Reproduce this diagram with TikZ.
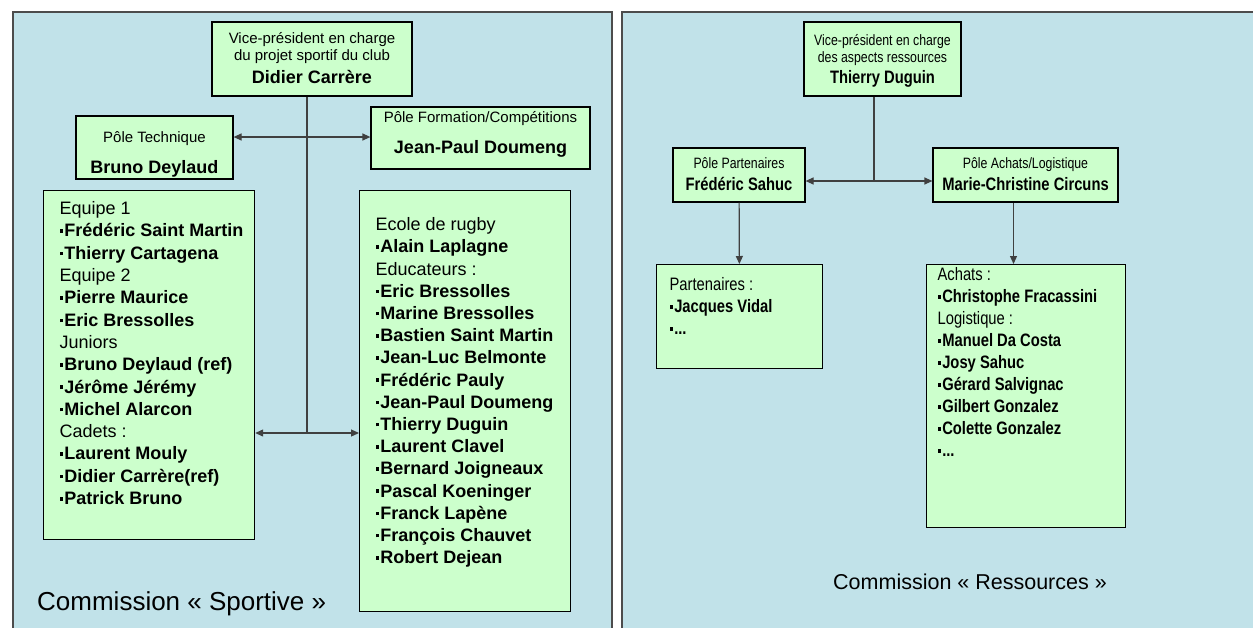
\documentclass[tikz,border=0pt]{standalone}
\usepackage{fontspec}
\setmainfont{Liberation Sans}
\newfontfamily\narrowsans[FakeStretch=0.82]{Liberation Sans}
\usetikzlibrary{arrows.meta}
\definecolor{panelblue}{RGB}{193,226,233}
\definecolor{boxgreen}{RGB}{204,255,204}
\definecolor{linegray}{RGB}{64,64,64}
\newcommand{\puce}{\raisebox{0.22em}{\rule{0.2em}{0.2em}}\kern0.06em}
\newcommand{\chef}[1]{{\fontsize{18}{20}\selectfont\bfseries #1}}
\newcommand{\strutup}[1]{\rule{0pt}{#1}}
\newcommand{\strutdown}[1]{\rule[-#1]{0pt}{#1}}
\begin{document}
\begin{tikzpicture}[x=1pt,y=-1pt]
\tikzstyle{panel} = [draw=black!70, fill=panelblue, line width=1.2pt]
\tikzstyle{head} = [draw=black, fill=boxgreen, line width=1.2pt, align=center, inner sep=0pt, font=\fontsize{15}{17}\selectfont]
\tikzstyle{narrowhead} = [head, font=\narrowsans\fontsize{15}{17}\selectfont]
\tikzstyle{listbox} = [draw=black, fill=boxgreen, line width=1.2pt, inner sep=0pt, anchor=north west]
\tikzstyle{title} = [inner sep=0pt, anchor=base west]
\tikzstyle{link} = [draw=linegray, line width=1.2pt]
\tikzstyle{arrow} = [link, -{Triangle[length=8pt,width=7pt]}]

\useasboundingbox (0,0) rectangle (1253,627);
\fill [white] (0,0) rectangle (1253,627);
\clip (0,0) rectangle (1253,627);
\draw [panel] (13,12) rectangle (612,640);
\draw [panel] (622,12) rectangle (1270,640);

\node (VicePresidentSport) [head, minimum width=200pt, minimum height=74pt] at (312,59) {\strutup{21pt}Vice-président en charge\\du projet sportif du club\\[6pt]\chef{Didier Carrère}\strutdown{13pt}};
\node (PoleTechnique) [head, minimum width=157pt, minimum height=63pt] at (154.5,147.5) {\strutup{26pt}Pôle Technique\\[14pt]\chef{Bruno Deylaud}\strutdown{6pt}};
\node (PoleFormation) [head, minimum width=219pt, minimum height=62pt] at (480.5,138) {\strutup{15pt}Pôle Formation/Compétitions\\[14pt]\chef{Jean-Paul Doumeng}\strutdown{16pt}};
\node (Equipes) [listbox] at (43,190) {\parbox[t][349pt][t]{211pt}{\leftskip16pt\rightskip-30pt\fontsize{18}{22.3}\selectfont
\rule{0pt}{24pt}Equipe 1\\
\textbf{\puce Frédéric Saint Martin}\\
\textbf{\puce Thierry Cartagena}\\
Equipe 2\\
\textbf{\puce Pierre Maurice}\\
\textbf{\puce Eric Bressolles}\\
Juniors\\
\textbf{\puce Bruno Deylaud (ref)}\\
\textbf{\puce Jérôme Jérémy}\\
\textbf{\puce Michel Alarcon}\\
Cadets :\\
\textbf{\puce Laurent Mouly}\\
\textbf{\puce Didier Carrère(ref)}\\
\textbf{\puce Patrick Bruno}}};
\node (EcoleRugby) [listbox] at (359,190) {\parbox[t][421pt][t]{211pt}{\leftskip16pt\rightskip-30pt\fontsize{18}{22.2}\selectfont
\rule{0pt}{40pt}Ecole de rugby\\
\textbf{\puce Alain Laplagne}\\
Educateurs :\\
\textbf{\puce Eric Bressolles}\\
\textbf{\puce Marine Bressolles}\\
\textbf{\puce Bastien Saint Martin}\\
\textbf{\puce Jean-Luc Belmonte}\\
\textbf{\puce Frédéric Pauly}\\
\textbf{\puce Jean-Paul Doumeng}\\
\textbf{\puce Thierry Duguin}\\
\textbf{\puce Laurent Clavel}\\
\textbf{\puce Bernard Joigneaux}\\
\textbf{\puce Pascal Koeninger}\\
\textbf{\puce Franck Lapène}\\
\textbf{\puce François Chauvet}\\
\textbf{\puce Robert Dejean}}};
\node (CommissionSportive) [title, font=\fontsize{26}{30}\selectfont] at (37,610) {Commission « Sportive »};

\coordinate (HubTop) at (307,137);
\coordinate (HubBottom) at (307,433);
\draw [link] (VicePresidentSport.south -| HubBottom) -- (HubBottom);
\draw [arrow] (HubTop) -- (HubTop -| PoleTechnique.east);
\draw [arrow] (HubTop) -- (HubTop -| PoleFormation.west);
\draw [arrow] (HubBottom) -- (HubBottom -| Equipes.east);
\draw [arrow] (HubBottom) -- (HubBottom -| EcoleRugby.west);

\node (VicePresidentRessources) [narrowhead, minimum width=157pt, minimum height=74pt] at (882.5,59) {\strutup{23pt}Vice-président en charge\\des aspects ressources\\[4pt]\chef{Thierry Duguin}\strutdown{13pt}};
\node (PolePartenaires) [narrowhead, minimum width=132pt, minimum height=54pt] at (739,175) {\strutup{20pt}Pôle Partenaires\\[5pt]\chef{Frédéric Sahuc}\strutdown{12pt}};
\node (PoleAchats) [narrowhead, minimum width=185pt, minimum height=54pt] at (1025.5,175) {\strutup{20pt}Pôle Achats/Logistique\\[5pt]\chef{Marie-Christine Circuns}\strutdown{12pt}};
\node (Partenaires) [listbox] at (656,264) {\parbox[t][104pt][t]{166pt}{\leftskip13pt\rightskip-30pt\narrowsans\fontsize{18}{22}\selectfont
\rule{0pt}{26pt}Partenaires :\\
\textbf{\puce Jacques Vidal}\\
\textbf{\puce ...}}};
\node (AchatsLogistique) [listbox] at (926,264) {\parbox[t][263pt][t]{199pt}{\leftskip11pt\rightskip-30pt\narrowsans\fontsize{18}{22}\selectfont
\rule{0pt}{16pt}Achats :\\
\textbf{\puce Christophe Fracassini}\\
Logistique :\\
\textbf{\puce Manuel Da Costa}\\
\textbf{\puce Josy Sahuc}\\
\textbf{\puce Gérard Salvignac}\\
\textbf{\puce Gilbert Gonzalez}\\
\textbf{\puce Colette Gonzalez}\\
\textbf{\puce ...}}};
\node (CommissionRessources) [title, font=\fontsize{21.5}{26}\selectfont] at (833,589) {Commission « Ressources »};

\coordinate (HubRessources) at (874,181);
\draw [link] (VicePresidentRessources.south -| HubRessources) -- (HubRessources);
\draw [arrow] (HubRessources) -- (HubRessources -| PolePartenaires.east);
\draw [arrow] (HubRessources) -- (HubRessources -| PoleAchats.west);
\draw [arrow] (PolePartenaires) -- (Partenaires);
\draw [arrow] ([xshift=-12pt]PoleAchats.south) -- ([xshift=-12pt]PoleAchats.south |- AchatsLogistique.north);

\end{tikzpicture}
\end{document}
